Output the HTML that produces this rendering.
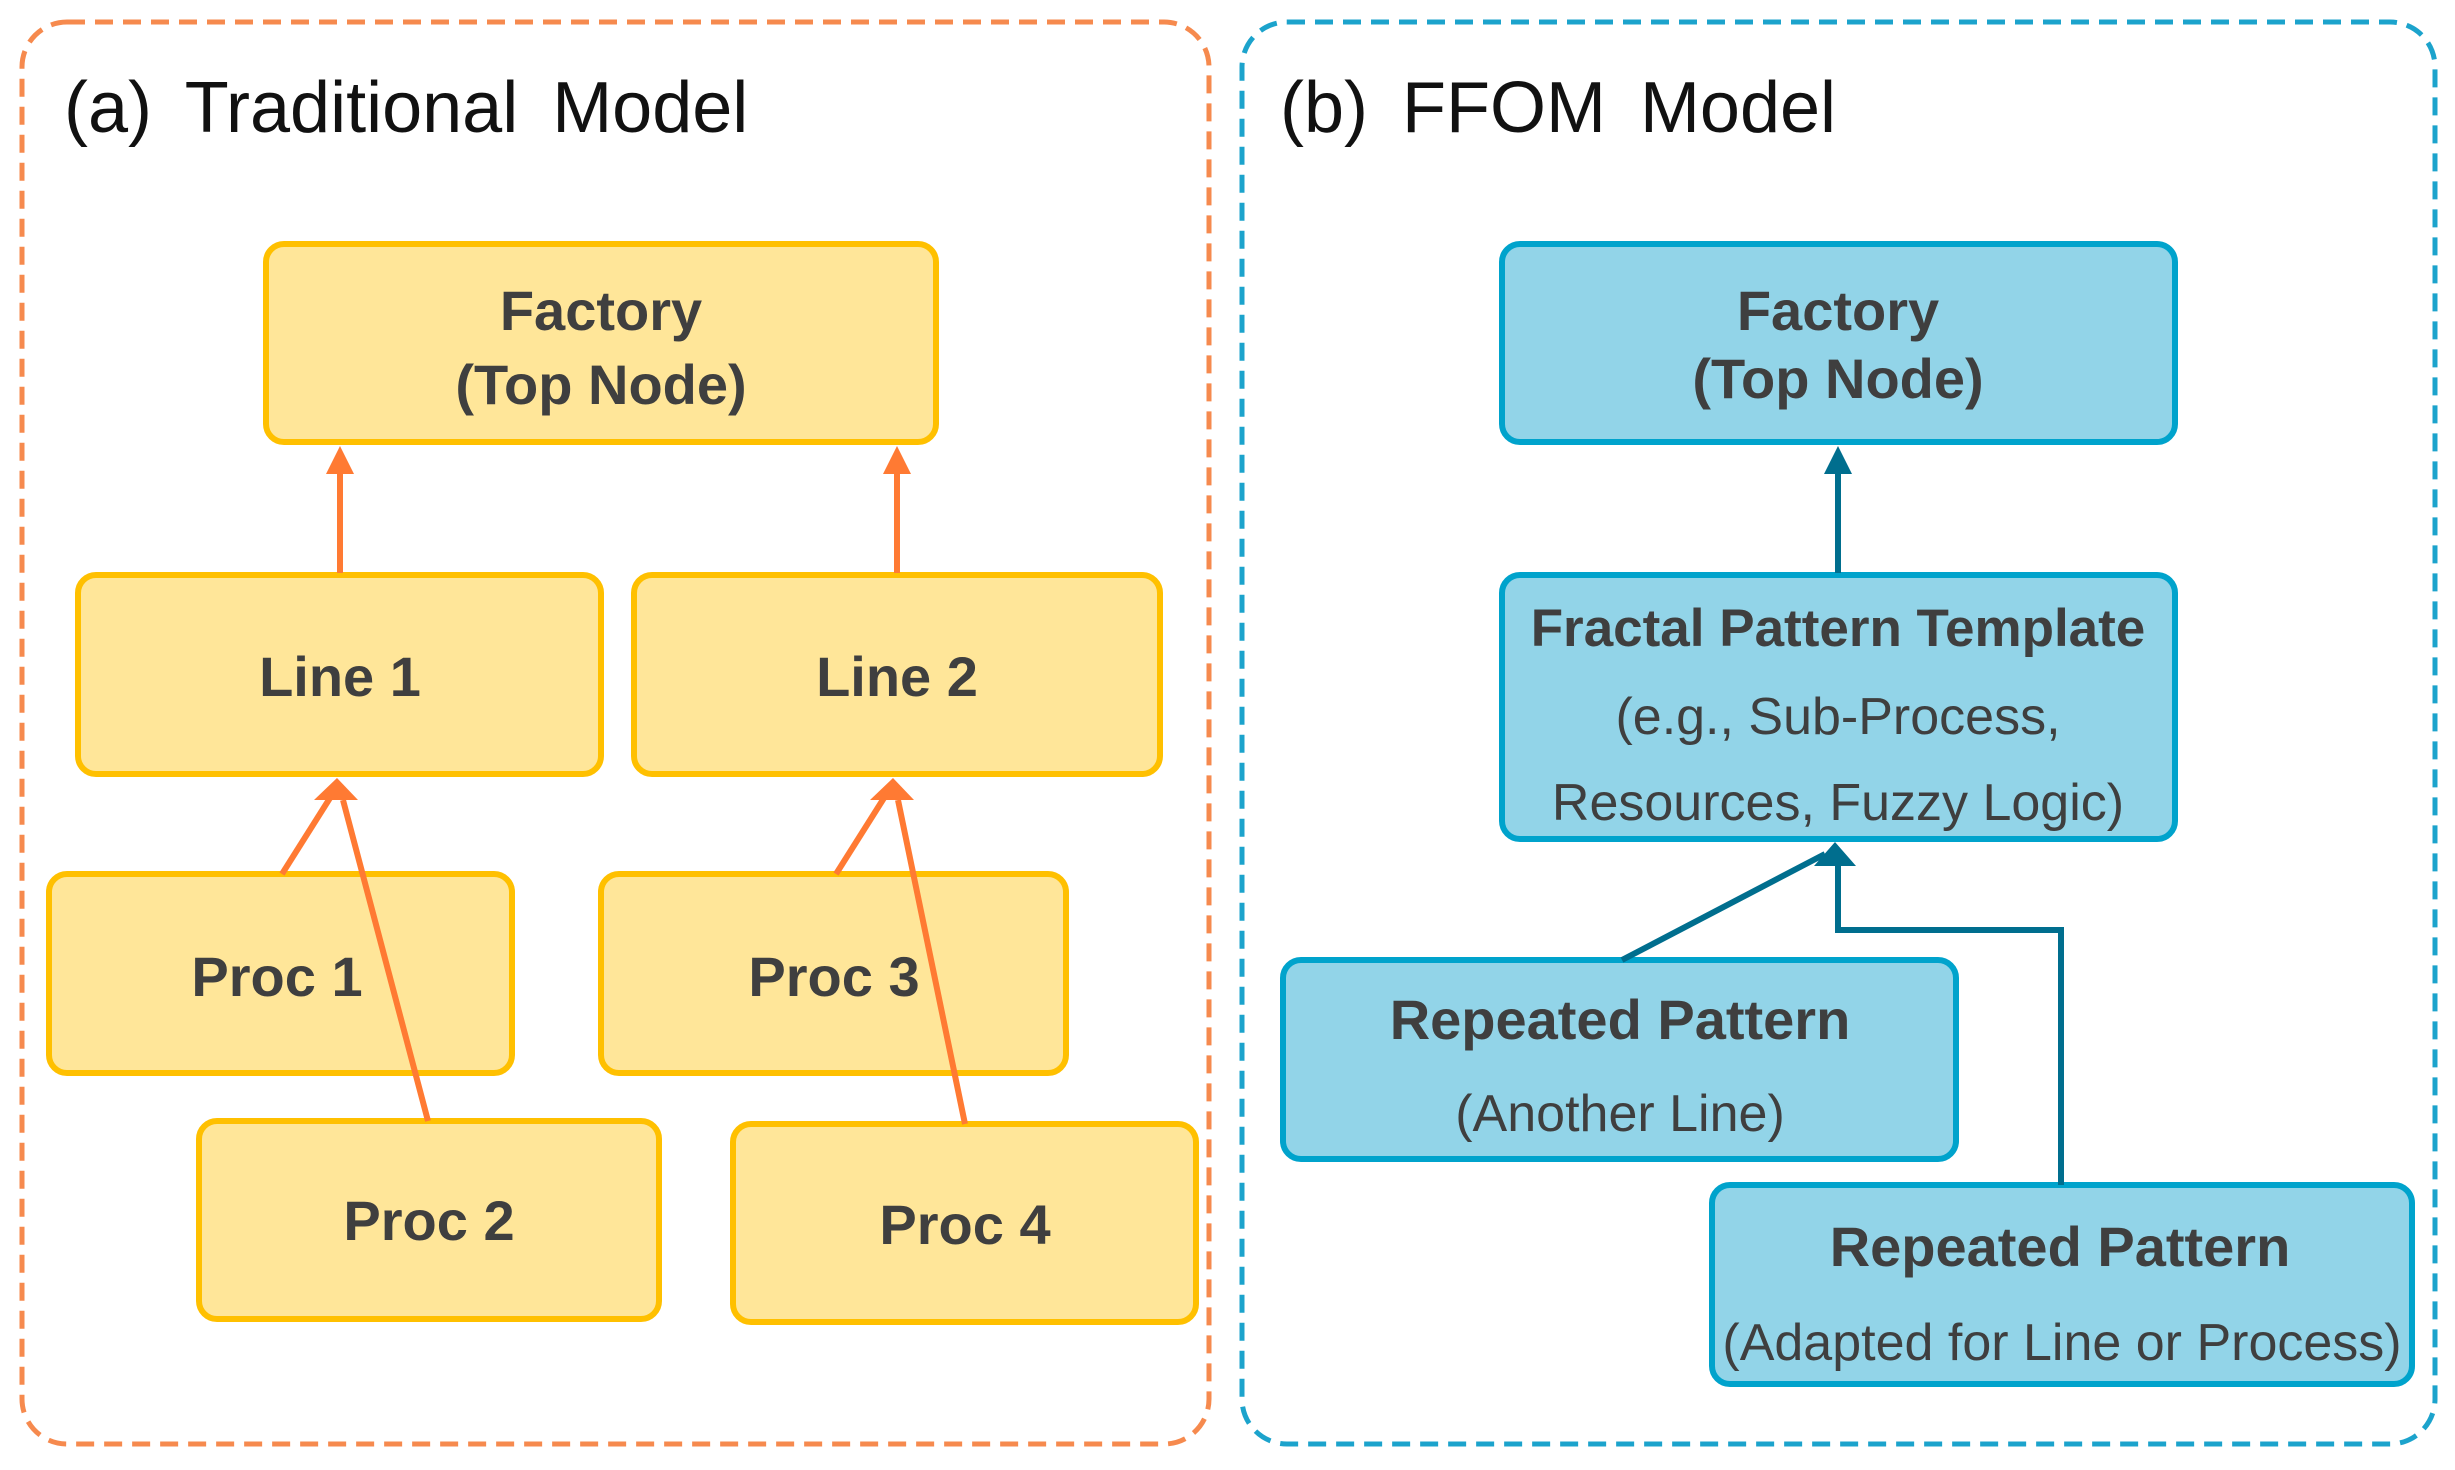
<!DOCTYPE html>
<html><head><meta charset="utf-8"><style>html,body{margin:0;padding:0;background:#fff}svg{display:block}</style></head>
<body>
<svg width="2455" height="1470" viewBox="0 0 2455 1470" xmlns="http://www.w3.org/2000/svg" font-family="Liberation Sans, sans-serif">
<rect x="22" y="22" width="1187" height="1422" rx="45" fill="none" stroke="#F68A4E" stroke-width="5" stroke-dasharray="18 10"/>
<rect x="1242" y="22" width="1193" height="1422" rx="45" fill="none" stroke="#1CA3CC" stroke-width="5" stroke-dasharray="18 10"/>
<text x="64" y="132" font-size="72" fill="#111" word-spacing="14">(a) Traditional  Model</text>
<text x="1280" y="132" font-size="72" fill="#111" word-spacing="14">(b) FFOM  Model</text>
<g fill="#FFE699" stroke="#FFC000" stroke-width="6">
<rect x="266" y="244" width="670" height="198" rx="18"/>
<rect x="78" y="575" width="523" height="199" rx="18"/>
<rect x="634" y="575" width="526" height="199" rx="18"/>
<rect x="49" y="874" width="463" height="199" rx="18"/>
<rect x="601" y="874" width="465" height="199" rx="18"/>
<rect x="199" y="1121" width="460" height="198" rx="18"/>
<rect x="733" y="1124" width="463" height="198" rx="18"/>
</g>
<g fill="#92D4E8" stroke="#00A3CC" stroke-width="6">
<rect x="1502" y="244" width="673" height="198" rx="18"/>
<rect x="1502" y="575" width="673" height="264" rx="18"/>
<rect x="1283" y="960" width="673" height="199" rx="18"/>
<rect x="1712" y="1185" width="700" height="199" rx="18"/>
</g>
<g stroke="#FF7A33" stroke-width="6" fill="none">
<line x1="340" y1="573" x2="340" y2="468"/>
<line x1="897" y1="573" x2="897" y2="468"/>
<line x1="282" y1="874" x2="330" y2="798"/>
<line x1="428" y1="1121" x2="343" y2="800"/>
<line x1="836" y1="874" x2="884" y2="798"/>
<line x1="965" y1="1124" x2="898" y2="800"/>
</g>
<g fill="#FF7A33">
<path d="M340,446 L326,474 L354,474 z"/>
<path d="M897,446 L883,474 L911,474 z"/>
<path d="M337,778 L314,800 L358,800 z"/>
<path d="M893,778 L870,800 L914,800 z"/>
</g>
<g stroke="#006E8E" stroke-width="6" fill="none">
<line x1="1838" y1="573" x2="1838" y2="468"/>
<line x1="1622" y1="960" x2="1825" y2="854"/>
<polyline points="2061,1185 2061,930 1838,930 1838,862"/>
</g>
<g fill="#006E8E">
<path d="M1838,446 L1824,474 L1852,474 z"/>
<path d="M1835,842 L1814,866 L1856,866 z"/>
</g>
<g font-weight="bold" font-size="56" fill="#3F3F3F" text-anchor="middle">
<text x="601" y="330">Factory</text>
<text x="601" y="404">(Top Node)</text>
<text x="340" y="696">Line 1</text>
<text x="897" y="696">Line 2</text>
<text x="277" y="996">Proc 1</text>
<text x="834" y="996">Proc 3</text>
<text x="429" y="1240">Proc 2</text>
<text x="965" y="1244">Proc 4</text>
<text x="1838" y="330">Factory</text>
<text x="1838" y="398">(Top Node)</text>
<text x="1838" y="646" font-size="53">Fractal Pattern Template</text>
<text x="1620" y="1039">Repeated Pattern</text>
<text x="2060" y="1266">Repeated Pattern</text>
</g>
<g font-size="52" fill="#3F3F3F" text-anchor="middle">
<text x="1838" y="734">(e.g., Sub-Process,</text>
<text x="1838" y="820">Resources, Fuzzy Logic)</text>
<text x="1620" y="1131">(Another Line)</text>
<text x="2062" y="1360">(Adapted for Line or Process)</text>
</g>
</svg>
</body></html>
